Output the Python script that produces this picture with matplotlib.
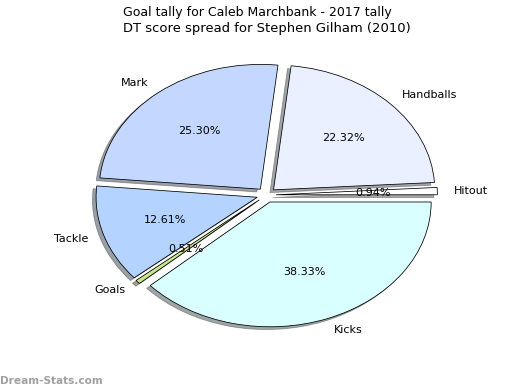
import matplotlib
matplotlib.use("Agg")
import matplotlib.pyplot as plt

labels = ["Hitout", "Handballs", "Mark", "Tackle", "Goals", "Kicks"]
values = [0.94, 22.32, 25.30, 12.61, 0.51, 38.33]
colors = ["#ffffff", "#eaf0ff", "#c4d8ff", "#b4d4ff", "#cce68c", "#d9ffff"]
explode = [0.06, 0.06, 0.06, 0.06, 0.06, 0.06]

fig = plt.figure(figsize=(6.5, 4.875), dpi=80)
ax = fig.add_axes([0.125, 0.1, 0.775, 0.8])
ax.pie(
    values,
    labels=labels,
    colors=colors,
    explode=explode,
    autopct="%1.2f%%",
    shadow=True,
    startangle=0,
    wedgeprops={"edgecolor": "black", "linewidth": 0.7},
    textprops={"fontsize": 10},
)
ax.set_aspect("auto")
ax.set_xlim(-1.25, 1.25)
ax.set_ylim(-1.25, 1.25)
ax.set_title("DT score spread for Stephen Gilham (2010)", fontsize=11.8)
fig.suptitle("Goal tally for Caleb Marchbank - 2017 tally", fontsize=11.3,
             x=0.495, y=0.985)
fig.text(0.0, 0.01, "Dream-Stats.com", fontsize=9.5, color="#a0a0a0",
         fontweight="bold", ha="left", va="bottom")
fig.savefig("out.png", dpi=80)
